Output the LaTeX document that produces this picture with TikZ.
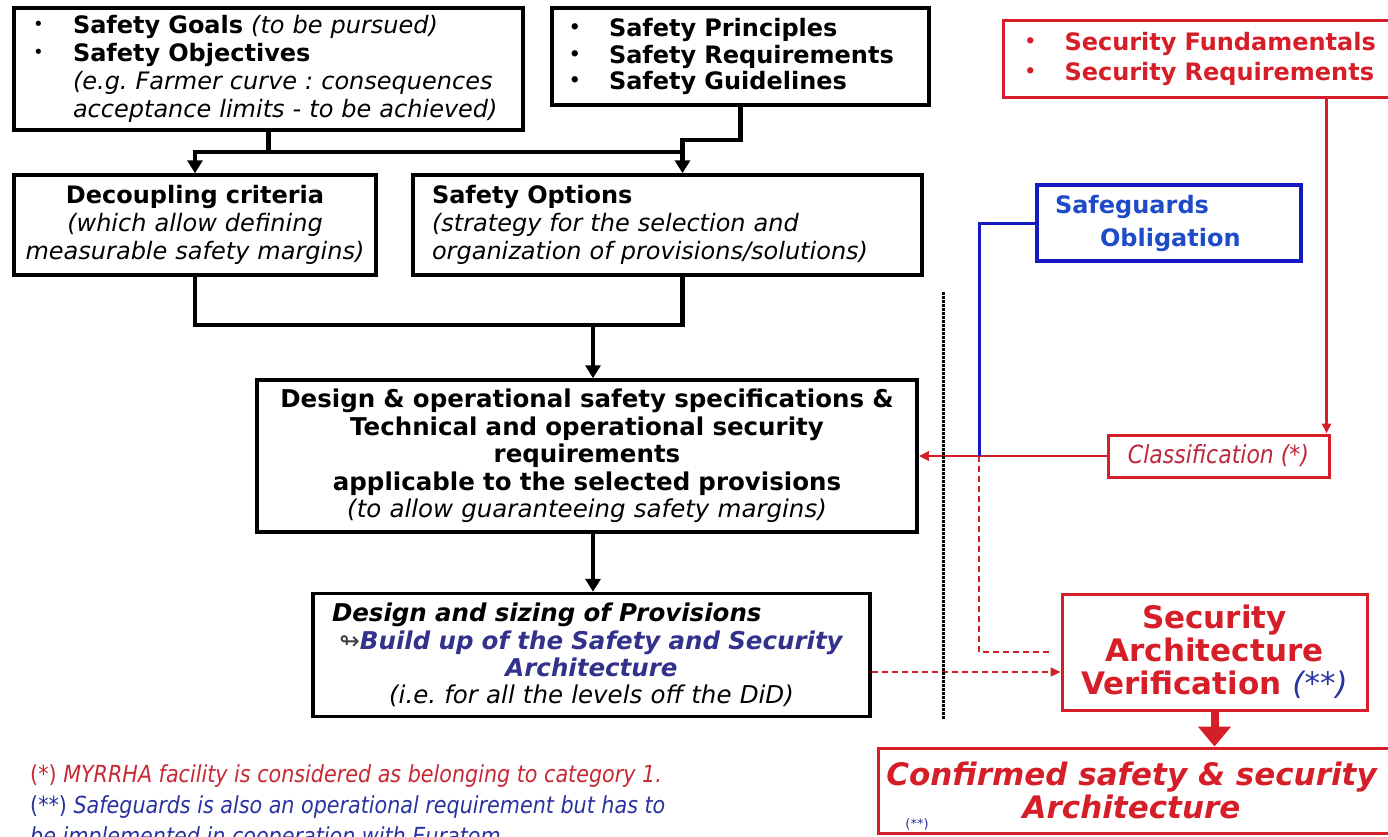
\documentclass[tikz,border=0pt]{standalone}
\usepackage{fontspec}
\setmainfont{DejaVu Sans}
\newfontfamily\tahoma{DejaVu Sans}[FakeStretch=0.88]
\usetikzlibrary{arrows.meta,calc}

\definecolor{secred}{RGB}{214,30,40}
\definecolor{clsred}{RGB}{190,40,60}
\definecolor{sgblue}{RGB}{30,75,200}
\definecolor{sgframe}{RGB}{20,25,195}
\definecolor{buildblue}{RGB}{50,50,140}
\definecolor{fnred}{RGB}{200,40,50}
\definecolor{fnblue}{RGB}{40,50,160}

\frenchspacing
\newcommand{\fsz}[2]{\fontsize{#1}{#2}\selectfont}
\newcommand{\bul}{\makebox[40pt][l]{\raisebox{3pt}{\fsz{18}{18}\textbullet}}}
\newcommand{\ind}{\hspace*{40pt}}

\begin{document}
\begin{tikzpicture}[x=1pt,y=-1pt,
		blkbox/.style={draw, line width=3.5pt, inner sep=0pt, fill=white},
		redbox/.style={draw=secred, line width=3pt, inner sep=0pt, fill=white, text=secred},
		flow/.style={line width=4.5pt},
		tip/.style={-{Triangle[length=13pt,width=15pt]}},
		redflow/.style={draw=secred, line width=2.5pt},
		redtip/.style={-{Triangle[length=10pt,width=9pt]}},
		blueflow/.style={draw=sgframe, line width=3pt},
		dashflow/.style={draw=secred, line width=2pt, dash pattern=on 6pt off 4pt}
	]
	\clip (0,0) rectangle (1388,836);

	% top row
	\node[blkbox, minimum width=509pt, minimum height=122pt, text width=471pt, align=left, font=\fsz{24}{28}] (goals) at (268.5,69)
		{\bul\textbf{Safety Goals} \textit{(to be pursued)}\\
		 \bul\textbf{Safety Objectives}\\
		 \ind\textit{(e.g. Farmer curve : consequences}\\
		 \ind\textit{acceptance limits - to be achieved)}};
	\node[blkbox, minimum width=377pt, minimum height=97pt, text width=343pt, align=left, font=\fsz{24}{26.5}\bfseries] (prin) at (740.5,56.5)
		{\bul Safety Principles\\ \bul Safety Requirements\\ \bul Safety Guidelines};
	\node[redbox, anchor=west, minimum width=400pt, minimum height=77pt, text width=358pt, align=left, font=\fsz{24}{30}\bfseries] (sec) at (1002,58.5)
		{\bul Security Fundamentals\\ \bul Security Requirements};

	% second row
	\node[blkbox, minimum width=362pt, minimum height=100pt, text width=350pt, align=center, font=\fsz{24}{28}] (dec) at (195,225)
		{\textbf{Decoupling criteria}\\ \textit{(which allow defining}\\ \textit{measurable safety margins)}};
	\node[blkbox, minimum width=509pt, minimum height=100pt, text width=471pt, align=left, font=\fsz{24}{28}] (opt) at (667.5,225)
		{\textbf{Safety Options}\\ \textit{(strategy for the selection and}\\ \textit{organization of provisions/solutions)}};
	\node[draw=sgframe, line width=3.5pt, inner sep=0pt, minimum width=264pt, minimum height=76pt, text width=228pt, align=left, text=sgblue, font=\fsz{24}{33}\bfseries] (sg) at (1169,223)
		{Safeguards\\ \hspace*{45pt}Obligation};

	% specifications
	\node[blkbox, minimum width=660pt, minimum height=152pt, text width=640pt, align=center, font=\fsz{24.5}{27.5}] (spec) at (587,456)
		{\textbf{Design \& operational safety specifications \&}\\
		 \textbf{Technical and operational security}\\
		 \textbf{requirements}\\
		 \textbf{applicable to the selected provisions}\\
		 \textit{(to allow guaranteeing safety margins)}};
	\node[redbox, minimum width=221pt, minimum height=42pt, text=clsred, font=\fsz{25}{28}\tahoma\itshape] (cls) at (1218.5,456) {Classification (*)};

	% provisions
	\node[blkbox, minimum width=557pt, minimum height=123pt, text width=519pt, align=center, font=\fsz{24.5}{27.3}] (size) at (591.5,655)
		{\makebox[519pt][l]{\textbf{\textit{Design and sizing of Provisions}}}\\
		 {\color{darkgray}\mdseries↬}\textcolor{buildblue}{\textbf{\textit{Build up of the Safety and Security}}}\\
		 \textcolor{buildblue}{\textbf{\textit{Architecture}}}\\
		 \textit{(i.e. for all the levels off the DiD)}};
	\node[redbox, minimum width=305pt, minimum height=116pt, align=center, font=\fsz{31}{33}\bfseries] (ver) at (1214.5,652)
		{Security\\ Architecture\\ Verification \textcolor{fnblue}{\mdseries\itshape(**)}};
	\node[redbox, minimum width=524pt, minimum height=85pt, align=center, font=\fsz{31}{33}\bfseries\itshape] (conf) at (1140,790.5)
		{Confirmed safety \& security\hspace*{17pt}\\ Architecture\hspace*{17pt}};
	\node[text=fnblue, font=\fsz{13}{14}, inner sep=0pt] (confnote) at (917,824) {(**)};

	% footnotes
	\node[anchor=west, text=fnred, font=\fsz{23.5}{26}\tahoma, inner sep=0pt] (fn1) at (30,776)
		{(*) \textit{MYRRHA facility is considered as belonging to category 1.}};
	\node[anchor=north west, text=fnblue, font=\fsz{23.5}{31}\tahoma, align=left, inner sep=0pt] (fn2) at (30,795)
		{(**) \textit{Safeguards is also an operational requirement but has to}\\
		 \textit{be implemented in cooperation with Euratom.}};

	% safety chain
	\coordinate (row0) at (0,140);
	\coordinate (row1) at (0,152);
	\coordinate (row2) at (0,325);
	\coordinate (optin) at ([xshift=15pt]opt.north);
	\coordinate (optout) at ([xshift=15pt]opt.south);
	\draw[flow] (goals.south) -- (goals.south |- row1);
	\draw[flow,tip] (goals.south |- row1) -| (dec.north);
	\draw[flow,tip] (goals.south |- row1) -| (optin);
	\draw[flow] (prin.south) |- (optin |- row0) -- (optin |- row1);
	\draw[flow] (dec.south) |- (optout |- row2) -- (optout);
	\draw[flow,tip] ([xshift=6pt]spec.north |- row2) -- ([xshift=6pt]spec.north);
	\draw[flow,tip] ([xshift=6pt]spec.south) -- ([xshift=6pt]spec.south |- size.north);

	% security chain
	\coordinate (junc) at (979,456);
	\draw[redflow,redtip] ([xshift=-4pt]cls.north east |- sec.south) -- ([xshift=-4pt]cls.north east);
	\draw[redflow,redtip] (cls.west) -- (cls.west -| spec.east);
	\draw[blueflow] (sg.west) -| (junc);
	\draw[dashflow] (junc) |- ([xshift=-10pt]ver.west);
	\draw[dashflow,redtip] ([yshift=-17pt]size.east) -- ([yshift=-17pt]size.east -| ver.west);
	\draw[line width=3pt, dash pattern=on 2.5pt off 1.5pt] (943,292) -- (943,720);
	\draw[draw=secred, line width=8pt, -{Triangle[length=20pt,width=32pt]}] (ver.south) -- (ver.south |- conf.north);

\end{tikzpicture}
\end{document}
